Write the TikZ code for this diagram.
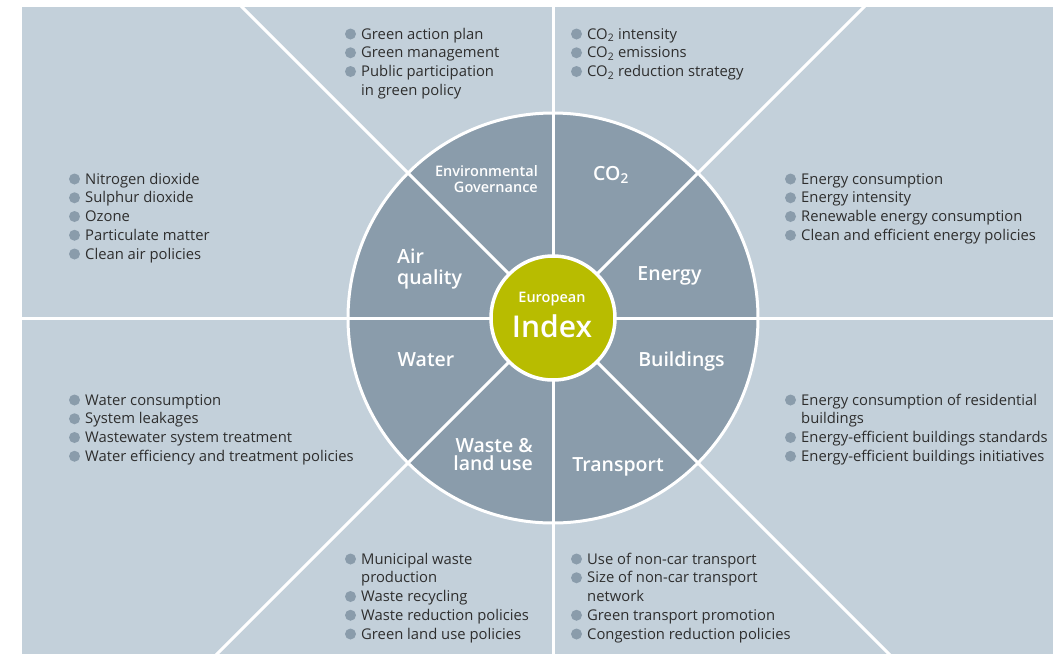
\documentclass[tikz,border=0pt]{standalone}
\usepackage{fontspec}
\setmainfont{Open Sans}
\IfFontExistsTF{Open Sans SemiBold}{\newfontfamily\semib{Open Sans SemiBold}}{%
  \IfFontExistsTF{Open Sans Semibold}{\newfontfamily\semib{Open Sans Semibold}}{\newcommand\semib{\bfseries}}}
\definecolor{panel}{HTML}{C3D0DA}
\definecolor{wheel}{HTML}{8A9CAB}
\definecolor{hubc}{HTML}{B8BC00}
\definecolor{bulc}{HTML}{8A9CAB}
\definecolor{txt}{HTML}{2E2E2E}
\newcommand\blist[4]{%
  \foreach \b/\t [count=\i] in {#4} {
    \node[itm] (#1\i) at (#2, {#3+(\i-1)*18.75}) {\t};
    \ifnum\b=1 \fill[bulc] (#2-10.5, {#3+(\i-1)*18.75-5}) circle (5.5pt);\fi
  }%
}
\begin{document}
\begin{tikzpicture}[x=1pt,y=-1pt,
  itm/.style={anchor=base west, inner sep=0pt, font=\fontsize{14.8}{17}\selectfont, text=txt},
  lab/.style={anchor=base, inner sep=0pt, text=white, font=\fontsize{19.5}{22}\selectfont\semib},
  ray/.style={white, line width=3pt}
]
\useasboundingbox (0,0) rectangle (1053,654);
\fill[panel] (22,7) rectangle (1053,654);
\coordinate (C) at (553,318);
\begin{scope}
\clip (22,7) rectangle (1053,654);
\fill[wheel, draw=white, line width=3pt] (C) circle (205pt);
\foreach \a in {0,45,...,315} \draw[ray] (C) -- ++(\a:900pt);
\end{scope}
\node[circle, fill=hubc, draw=white, line width=3.5pt, minimum size=124pt, inner sep=0pt] (hub) at (C) {};

% wheel labels
\node[lab, anchor=base east, font=\fontsize{14.5}{16}\selectfont\semib] (env1) at (538,176) {Environmental};
\node[lab, anchor=base east, font=\fontsize{14.5}{16}\selectfont\semib] (env2) at (538,192) {Governance};
\node[lab] (co2) at (611,180) {CO\textsubscript{2}};
\node[lab, anchor=base west] (air1) at (397,263) {Air};
\node[lab, anchor=base west] (air2) at (397,284) {quality};
\node[lab] (energy) at (669.5,280) {Energy};
\node[lab] (water) at (426,366) {Water};
\node[lab] (build) at (681.5,366) {Buildings};
\node[lab, anchor=base east] (waste1) at (533,452) {Waste \&};
\node[lab, anchor=base east] (waste2) at (533,470) {land use};
\node[lab] (transp) at (618,471) {Transport};
\node[lab, font=\fontsize{14.5}{16}\selectfont\semib] (euro) at (552,302) {European};
\node[lab, font=\fontsize{30}{32}\selectfont\semib] (index) at (552,337) {Index};

% lists
\blist{gov}{361}{39}{1/Green action plan, 1/Green management, 1/Public participation, 0/in green policy}
\blist{co}{587}{39}{1/CO\textsubscript{2} intensity, 1/CO\textsubscript{2} emissions, 1/CO\textsubscript{2} reduction strategy}
\blist{air}{85}{184}{1/Nitrogen dioxide, 1/Sulphur dioxide, 1/Ozone, 1/Particulate matter, 1/Clean air policies}
\blist{en}{801}{184}{1/Energy consumption, 1/Energy intensity, 1/Renewable energy consumption, 1/Clean and efficient energy policies}
\blist{wa}{85}{405}{1/Water consumption, 1/System leakages, 1/Wastewater system treatment, 1/Water efficiency and treatment policies}
\blist{bu}{801}{405}{1/Energy consumption of residential, 0/buildings, 1/Energy-efficient buildings standards, 1/Energy-efficient buildings initiatives}
\blist{ws}{361}{564}{1/Municipal waste, 0/production, 1/Waste recycling, 1/Waste reduction policies, 1/Green land use policies}
\blist{tr}{587}{564}{1/Use of non-car transport, 1/Size of non-car transport, 0/network, 1/Green transport promotion, 1/Congestion reduction policies}
\end{tikzpicture}
\end{document}
